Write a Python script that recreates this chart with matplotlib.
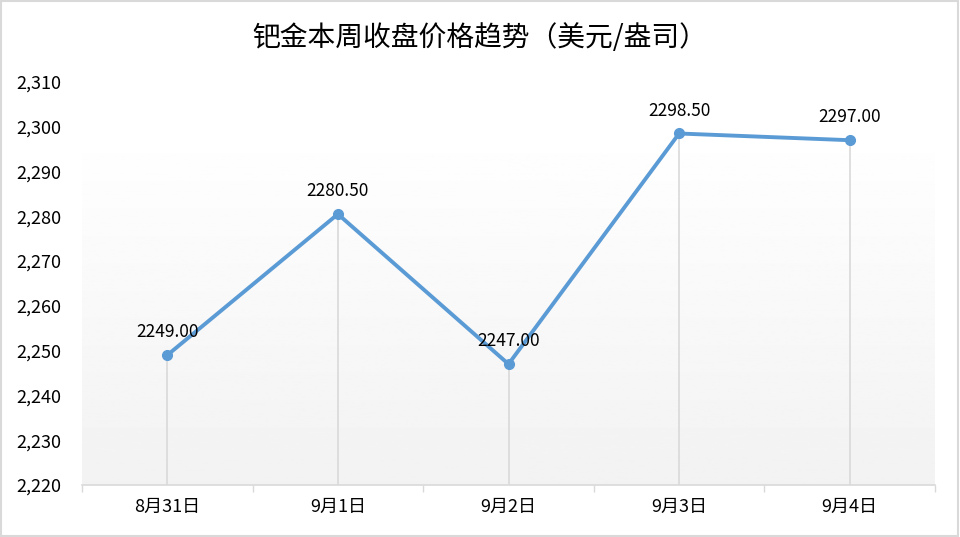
import numpy as np
import matplotlib.pyplot as plt
from matplotlib.ticker import FuncFormatter

plt.rcParams['font.family'] = ['Noto Sans CJK SC', 'DejaVu Sans']

dates = ['8月31日', '9月1日', '9月2日', '9月3日', '9月4日']
prices = [2249.00, 2280.50, 2247.00, 2298.50, 2297.00]
y_ticks = [2220, 2230, 2240, 2250, 2260, 2270, 2280, 2290, 2300, 2310]

line_color = '#5B9BD5'

fig = plt.figure(figsize=(9.6, 5.37), dpi=100)
ax = fig.add_axes([82 / 960, 1 - 485 / 537, (935 - 82) / 960, (485 - 82) / 537])

x = np.arange(len(dates))
ax.set_xlim(-0.5, len(dates) - 0.5)
ax.set_ylim(y_ticks[0], y_ticks[-1])

# gradient background (white at top, light gray at bottom)
grad = np.linspace(1.0, 0.949, 256).reshape(-1, 1)
ax.imshow(grad, cmap='gray', vmin=0, vmax=1, aspect='auto',
          extent=(-0.5, len(dates) - 0.5, y_ticks[0], 2300), zorder=0)

# drop lines
ax.vlines(x, y_ticks[0], prices, color='#d9d9d9', linewidth=1.2, zorder=1)

ax.plot(x, prices, color=line_color, linewidth=2.8, marker='o',
        markersize=7, zorder=3)

for xi, p in zip(x, prices):
    ax.annotate(f'{p:.2f}', (xi, p), textcoords='offset points', xytext=(0, 10),
                ha='center', va='bottom', fontsize=12.5, color='#000000')

ax.set_yticks(y_ticks)
ax.yaxis.set_major_formatter(FuncFormatter(lambda v, pos: f'{v:,.0f}'))
ax.set_xticks(x)
ax.set_xticklabels(dates)
ax.set_xticks(np.arange(-0.5, len(dates), 1), minor=True)

ax.tick_params(axis='y', length=0, labelsize=13, pad=15)
ax.tick_params(axis='x', which='major', length=0, labelsize=13, pad=9)
ax.tick_params(axis='x', which='minor', length=5, color='#d9d9d9', width=1)

for side in ['top', 'right', 'left']:
    ax.spines[side].set_visible(False)
ax.spines['bottom'].set_color('#d9d9d9')
ax.spines['bottom'].set_linewidth(1.2)

fig.text(0.5, 1 - 38 / 537, '钯金本周收盘价格趋势（美元/盎司）', ha='center',
         va='center', fontsize=20, color='#000000')

# chart border
fig.patches.append(plt.Rectangle((0.001, 0.001), 0.997, 0.997, transform=fig.transFigure,
                                 fill=False, edgecolor='#d9d9d9', linewidth=1.5))

fig.savefig('out.png', dpi=100)
